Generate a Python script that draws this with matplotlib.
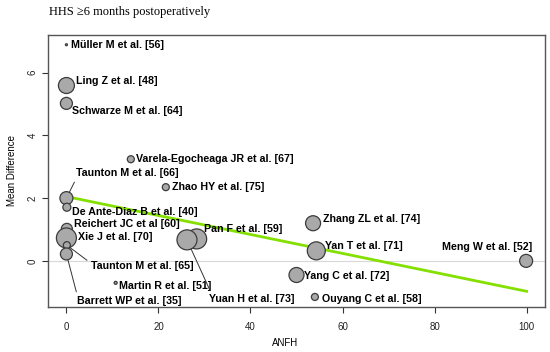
import matplotlib
matplotlib.use("Agg")
import matplotlib.pyplot as plt
import numpy as np

# study data
studies = ["Müller M et al. [56]", "Ling Z et al. [48]", "Schwarze M et al. [64]",
           "Varela-Egocheaga JR et al. [67]", "Taunton M et al. [66]", "Zhao HY et al. [75]",
           "De Ante-Diaz B et al. [40]", "Reichert JC et al [60]", "Xie J et al. [70]",
           "Taunton M et al. [65]", "Barrett WP et al. [35]", "Martin R et al. [51]",
           "Pan F et al. [59]", "Yuan H et al. [73]", "Zhang ZL et al. [74]",
           "Yan T et al. [71]", "Meng W et al. [52]", "Yang C et al. [72]",
           "Ouyang C et al. [58]"]
anfh = [0, 0, 0, 14, 0, 21.6, 0.1, 0.1, 0, 0.1, 0, 10.7, 28.3, 26.2, 53.6, 54.3, 99.9, 50, 54]
mean_diff = [6.89, 5.59, 5.02, 3.24, 2.0, 2.35, 1.71, 1.02, 0.73, 0.5, 0.22, -0.7,
             0.70, 0.67, 1.2, 0.32, 0.0, -0.45, -1.15]
weights = [2, 16, 12, 7, 13, 7, 8, 11, 20, 7, 12, 3, 20, 20, 15, 18, 13, 15, 7]

# meta-regression line
reg_x = [0, 100]
reg_y = [2.05, -0.97]

xticks = [0, 20, 40, 60, 80, 100]
yticks = [0, 2, 4, 6]

# label offsets in pixels (dx, dy)
offsets = [(5, 0), (10, 5), (6, -8), (5, 0), (10, 25), (6, 0), (5, -5), (7, 5), (12, 1),
           (24, -21), (11, -47), (3, -3), (7, 10), (22, -59), (10, 4), (9, 5), (6, 14),
           (8, -1), (7, -2)]
# leader lines: index -> where the line meets the text box
leaders = {4: (0.0, 0.0), 9: (0.0, 0.8), 10: (0.0, 1.0), 13: (0.03, 1.0)}

fig = plt.figure(figsize=(5.5, 3.52), dpi=100)
ax = fig.add_axes([48/550, 1-307/352, 497/550, 272/352])

ax.axhline(0, color="#d8d8d8", lw=0.8, zorder=1)
ax.plot(reg_x, reg_y, color="#84e000", lw=2, zorder=2)

s = [(d*0.72)**2 for d in weights]
ax.scatter(anfh, mean_diff, s=s, facecolor="#a9a9a9", edgecolor="#3c3c3c", lw=0.9, zorder=3)

for i, name in enumerate(studies):
    dx, dy = offsets[i]
    ha = "right" if name.startswith("Meng") else "left"
    kw = dict(xytext=(dx, dy), textcoords="offset pixels", ha=ha, va="center",
              fontsize=7.7, fontweight="bold", family="Liberation Sans", zorder=4)
    if i in leaders:
        kw["arrowprops"] = dict(arrowstyle="-", color="#333333", lw=0.7, relpos=leaders[i],
                                shrinkA=1, shrinkB=weights[i]*0.36)
    ax.annotate(name, (anfh[i], mean_diff[i]), **kw)

ax.set_xlim(-4, 104)
ax.set_ylim(-1.47, 7.2)
ax.set_xticks(xticks)
ax.set_yticks(yticks)
ax.tick_params(direction="out", length=4, width=0.8, color="#333333", labelsize=7,
               labelcolor="#222222")
ax.tick_params(axis="x", pad=7)
for lab in ax.get_yticklabels():
    lab.set_rotation(90)
    lab.set_va("center")
for lab in ax.get_xticklabels() + ax.get_yticklabels():
    lab.set_family("Liberation Sans")
for sp in ax.spines.values():
    sp.set_color("#555555")
    sp.set_linewidth(1.0)

fig.text(285/550, 1-343/352, "ANFH", ha="center", va="center", fontsize=7, family="Liberation Sans")
fig.text(12/550, 1-170/352, "Mean Difference", ha="center", va="center", rotation=90,
         fontsize=7, family="Liberation Sans")
fig.text(49/550, 1-12/352, "HHS ≥6 months postoperatively", ha="left", va="center",
         fontsize=9, family=["Liberation Serif", "DejaVu Serif"])

fig.savefig("out.png", dpi=100)
